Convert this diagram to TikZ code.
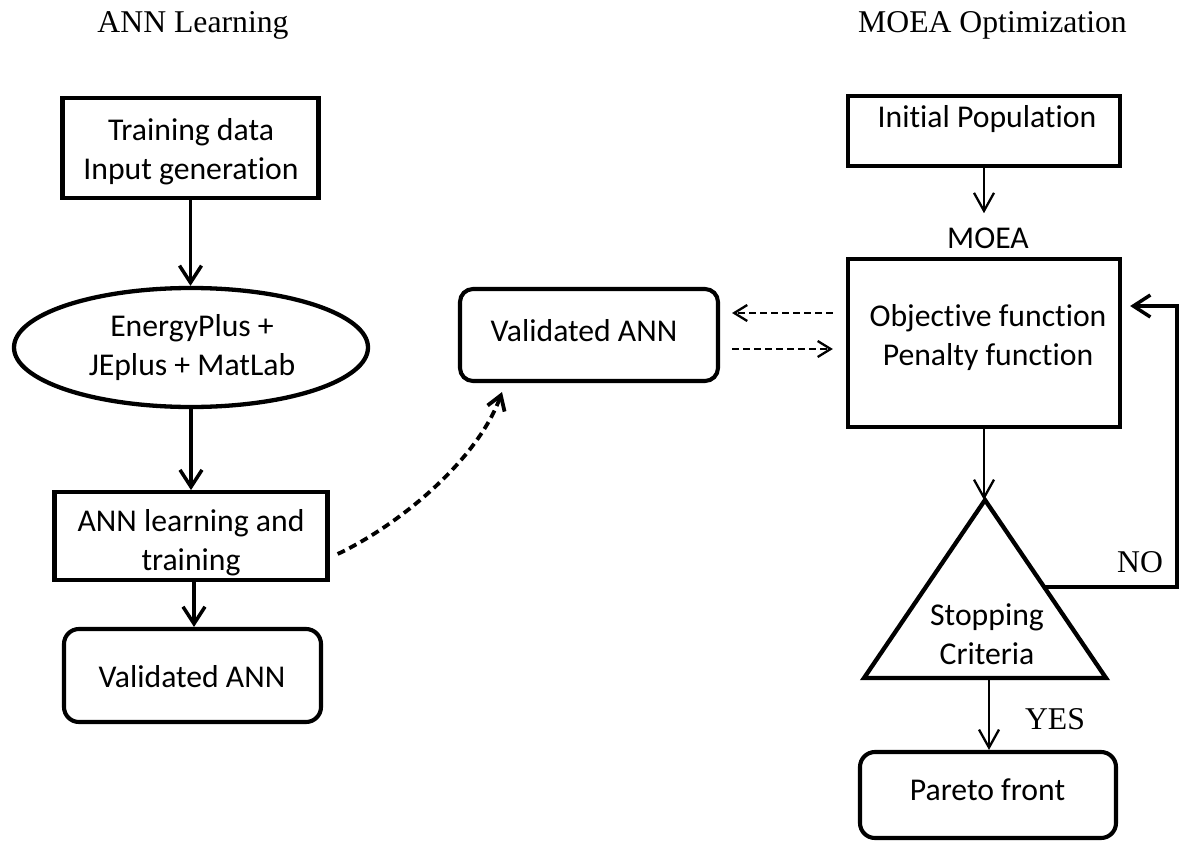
\documentclass[tikz,border=0pt]{standalone}
\usepackage{fontspec}
\setmainfont{Liberation Serif}
\newfontfamily\calib[Ligatures=NoCommon]{Carlito}
\usetikzlibrary{arrows.meta,shapes.geometric}
\newcommand\mytop{\rule{0pt}{23pt}}
\newcommand\mybot{\rule[-8pt]{0pt}{8pt}}
\begin{document}
\begin{tikzpicture}[x=1pt,y=-1pt,
  box/.style={draw,line width=4.3pt,inner sep=0pt},
  rbox/.style={draw,line width=4.1pt,inner sep=0pt,rounded corners=15pt},
  txt/.style={inner sep=0pt,align=center,font=\calib\fontsize{31.7}{39}\selectfont},
  txtb/.style={inner sep=0pt,anchor=base,font=\calib\fontsize{31.7}{39}\selectfont},
  ttl/.style={inner sep=0pt,anchor=base,font=\fontsize{31.7}{38}\selectfont},
  arr/.style={line width=3.5pt,-{Straight Barb[length=17pt,width=22pt]}},
  tarr/.style={line width=2.3pt,-{Straight Barb[length=18pt,width=20pt]}},
  dline/.style={line width=2.3pt,dash pattern=on 7pt off 4pt,-{Straight Barb[length=13pt,width=16pt]}},
  dcurve/.style={line width=3.8pt,dash pattern=on 8pt off 5pt,-{Straight Barb[length=14pt,width=18pt]}},
  noloop/.style={line width=3.5pt,-{Straight Barb[length=17pt,width=22pt]}}]
\useasboundingbox (0,0) rectangle (1184,843);

% titles
\node[ttl] (h1) at (193,33) {ANN Learning};
\node[ttl] (h2) at (992.5,33) {MOEA Optimization};

% left column
\node[box,minimum width=256pt,minimum height=100pt] (box1) at (190.5,148) {};
\node[txt] (t1) at (191,152) {\mytop Training data\\Input generation\mybot};
\node[box,ellipse,minimum width=354pt,minimum height=119pt] (ell) at (191,347.5) {};
\node[txt] (t2) at (192,348) {\mytop EnergyPlus +\\JEplus + MatLab\mybot};
\node[box,minimum width=273pt,minimum height=87.5pt] (box3) at (191,536) {};
\node[txt] (t3) at (191,543) {\mytop ANN learning and\\training\mybot};
\node[rbox,minimum width=257pt,minimum height=93pt] (box4) at (192.5,675.5) {};
\node[txtb] (t4) at (192,687) {Validated ANN};

% middle
\node[rbox,rounded corners=13pt,minimum width=258pt,minimum height=92pt] (valm) at (589,335) {};
\node[txtb] (t5) at (584,341) {Validated ANN};

% right column
\node[box,minimum width=272pt,minimum height=70pt] (init) at (984,131) {};
\node[txtb] (t6) at (987,128) {Initial Population};
\node[txtb] (moealbl) at (988,248) {MOEA};
\node[box,minimum width=272pt,minimum height=168pt] (moea) at (984,343) {};
\node[txt] (t7) at (988,338) {\mytop Objective function\\Penalty function\mybot};
\coordinate (tapex) at (985,500);
\coordinate (tleft) at (864,678);
\coordinate (tright) at (1106,678);
\coordinate (tbase) at (989,680);
\coordinate (tno) at (1044,587);
\coordinate (nocorner) at (1177,587);
\draw[line width=4.3pt] (tapex) -- (tright) -- (tleft) -- cycle;
\node[txt] (t8) at (987,637) {\mytop Stopping\\Criteria\mybot};
\node[rbox,minimum width=256pt,minimum height=86pt] (pareto) at (988,795) {};
\node[txtb] (t9) at (987.5,800) {Pareto front};
\node[ttl] (no) at (1140,572) {NO};
\node[ttl] (yes) at (1055,729) {YES};

% connectors left
\draw[arr] (box1.south) -- (box1.south |- ell.north);
\draw[arr] (ell.south) -- (ell.south |- box3.north);
\coordinate (a3) at ([xshift=3pt]box3.south);
\draw[arr] (a3) -- (a3 |- box4.north);

% dashed curve
\draw[dcurve] ([shift={(8,18)}]box3.east) .. controls (401,524) and (478,459) .. ([shift={(-87,9)}]valm.south);

% dashed pair
\coordinate (d1s) at ([yshift=30pt]moea.west);
\draw[dline,shorten <=13pt,shorten >=12pt] (d1s) -- (d1s -| valm.east);
\coordinate (d2s) at ([yshift=-14pt]valm.east);
\draw[dline,shorten <=12pt,shorten >=13pt] (d2s) -- (d2s -| moea.west);

% connectors right
\draw[tarr,shorten >=14pt] (init.south) -- (init.south |- moealbl.north);
\draw[tarr] (moea.south) -- (moea.south |- tapex);
\draw[tarr] (tbase) -- (tbase |- pareto.north);
\coordinate (nob) at ([yshift=37pt]moea.east);
\draw[noloop,shorten >=8pt] (tno) -- (nocorner) |- (nob);
\end{tikzpicture}
\end{document}
